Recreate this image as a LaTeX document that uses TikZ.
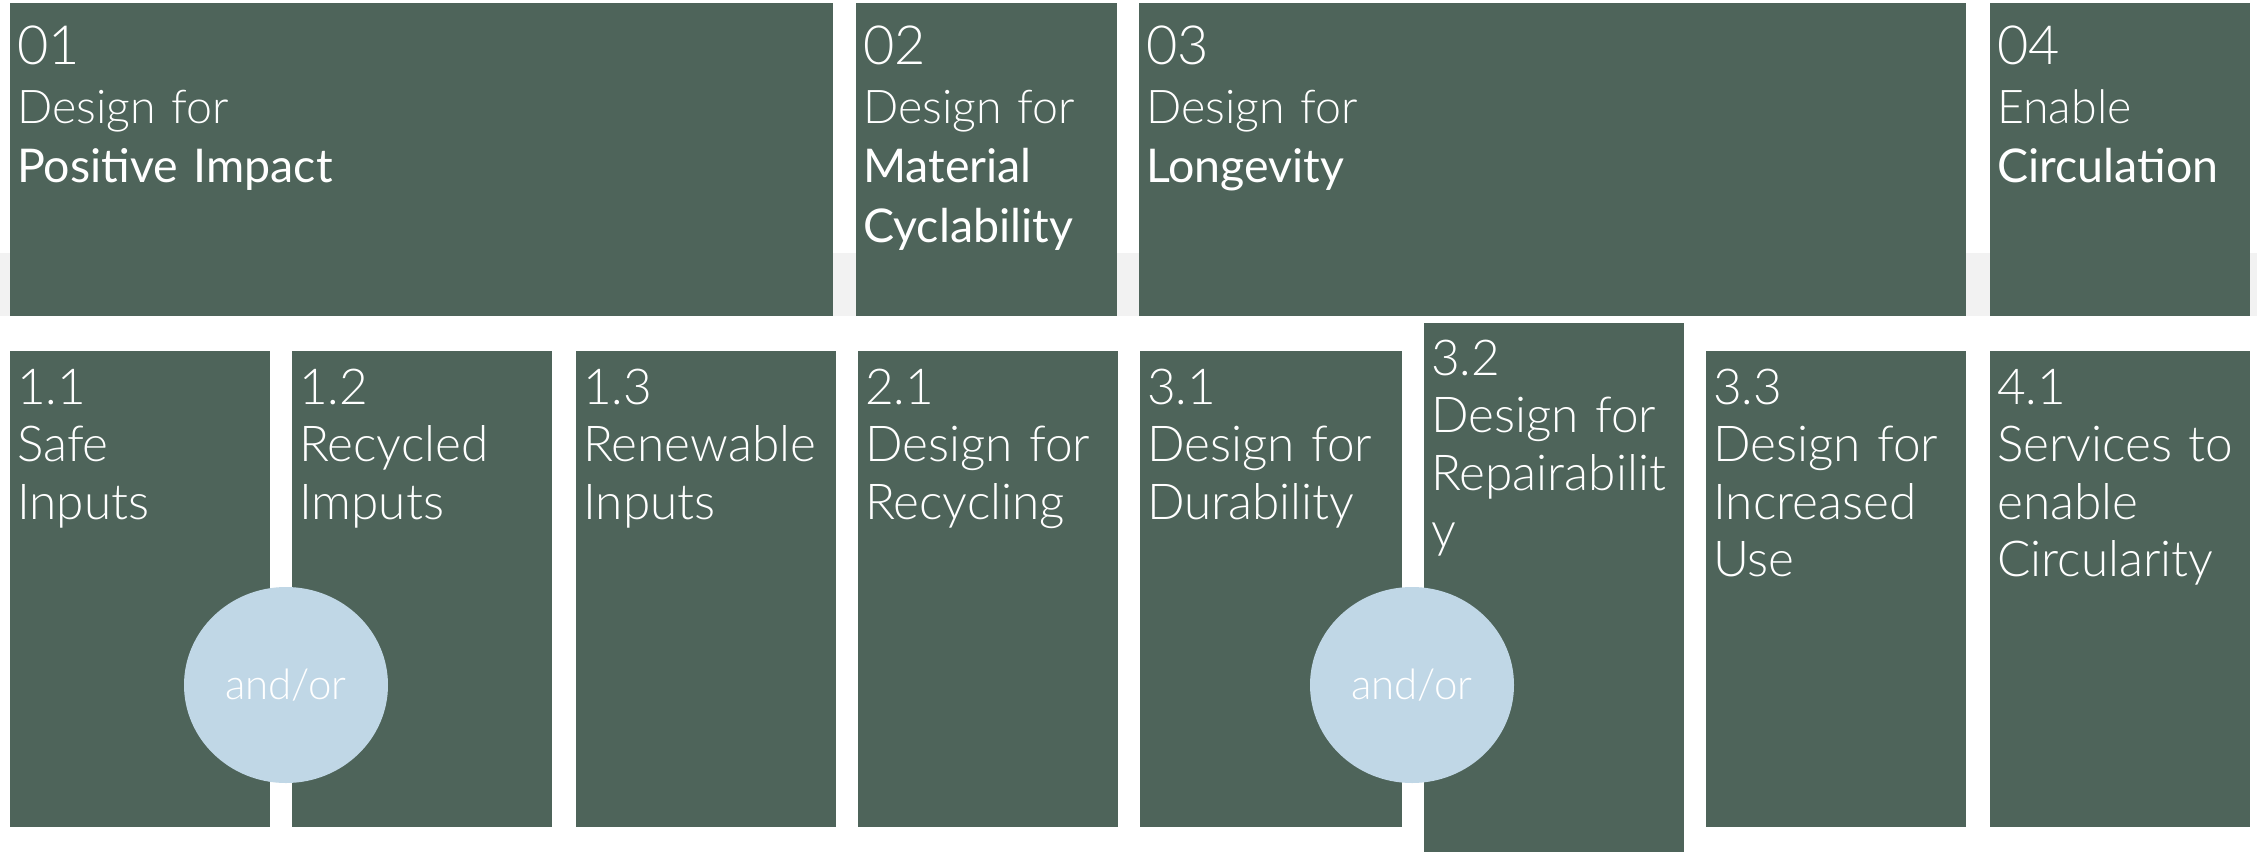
\documentclass[tikz,border=0pt]{standalone}
\usepackage{fontspec}
\setmainfont{Lato Light}
\newfontfamily\emfont{Lato}
\definecolor{boxgreen}{HTML}{4E645A}
\definecolor{andorblue}{HTML}{C0D7E6}
\definecolor{bandgray}{HTML}{F2F2F2}
\usetikzlibrary{shapes.geometric}
\tikzset{
  box/.style={fill=boxgreen, draw=none, inner sep=0pt, outer sep=0pt, anchor=north west},
  topbox/.style={box, minimum height=313pt},
  lowbox/.style={box, minimum width=260pt, minimum height=476pt},
  numtxt/.style={anchor=base west, inner sep=0pt, text=white, font=\fontsize{54}{60}\selectfont},
  toptxt/.style={anchor=base west, inner sep=0pt, text=white, align=left, text width=400pt, font=\fontsize{46.5}{59.5}\selectfont},
  lowtxt/.style={anchor=base west, inner sep=0pt, text=white, align=left, text width=400pt, font=\fontsize{49.5}{57.5}\selectfont},
  andor/.style={ellipse, fill=andorblue, draw=none, minimum width=204pt, minimum height=196pt, inner sep=0pt, text=white, font=\fontsize{42}{48}\selectfont},
}
\begin{document}
\begin{tikzpicture}[x=1pt,y=-1pt]
\useasboundingbox (0,0) rectangle (2257,852);
\fill[white] (0,0) rectangle (2257,852);
\fill[bandgray] (0,253) rectangle (2257,316);
% top row
\node[topbox, minimum width=823pt] (b01) at (10,3) {};
\node[topbox, minimum width=261pt] (b02) at (856,3) {};
\node[topbox, minimum width=827pt] (b03) at (1139,3) {};
\node[topbox, minimum width=260pt] (b04) at (1990,3) {};
\node[numtxt] (n01) at ([shift={(7,61)}]b01.north west) {01};
\node[numtxt] (n02) at ([shift={(7,61)}]b02.north west) {02};
\node[numtxt] (n03) at ([shift={(7,61)}]b03.north west) {03};
\node[numtxt] (n04) at ([shift={(7,61)}]b04.north west) {04};
\node[toptxt] (t01) at ([shift={(7,120)}]b01.north west) {Design for\\{\emfont Positive Impact}};
\node[toptxt] (t02) at ([shift={(7,120)}]b02.north west) {Design for\\{\emfont Material}\\{\emfont Cyclability}};
\node[toptxt] (t03) at ([shift={(7,120)}]b03.north west) {Design for\\{\emfont Longevity}};
\node[toptxt] (t04) at ([shift={(7,120)}]b04.north west) {Enable\\{\emfont Circulation}};
% lower row
\node[lowbox] (b11) at (10,351) {};
\node[lowbox] (b12) at (292,351) {};
\node[lowbox] (b13) at (576,351) {};
\node[lowbox] (b21) at (858,351) {};
\node[lowbox, minimum width=262pt] (b31) at (1140,351) {};
\node[lowbox, minimum height=529pt] (b32) at (1424,323) {};
\node[lowbox] (b33) at (1706,351) {};
\node[lowbox] (b41) at (1990,351) {};
\node[lowtxt] (t11) at ([shift={(7,53)}]b11.north west) {1.1\\Safe\\Inputs};
\node[lowtxt] (t12) at ([shift={(7,53)}]b12.north west) {1.2\\Recycled\\Imputs};
\node[lowtxt] (t13) at ([shift={(7,53)}]b13.north west) {1.3\\Renewable\\Inputs};
\node[lowtxt] (t21) at ([shift={(7,53)}]b21.north west) {2.1\\Design for\\Recycling};
\node[lowtxt] (t31) at ([shift={(7,53)}]b31.north west) {3.1\\Design for\\Durability};
\node[lowtxt] (t32) at ([shift={(7,52)}]b32.north west) {3.2\\Design for\\Repairabilit\\y};
\node[lowtxt] (t33) at ([shift={(7,53)}]b33.north west) {3.3\\Design for\\Increased\\Use};
\node[lowtxt] (t41) at ([shift={(7,53)}]b41.north west) {4.1\\Services to\\enable\\Circularity};
% and/or
\node[andor] (ao1) at (286,685) {and/or};
\node[andor] (ao2) at (1412,685) {and/or};
\end{tikzpicture}
\end{document}
